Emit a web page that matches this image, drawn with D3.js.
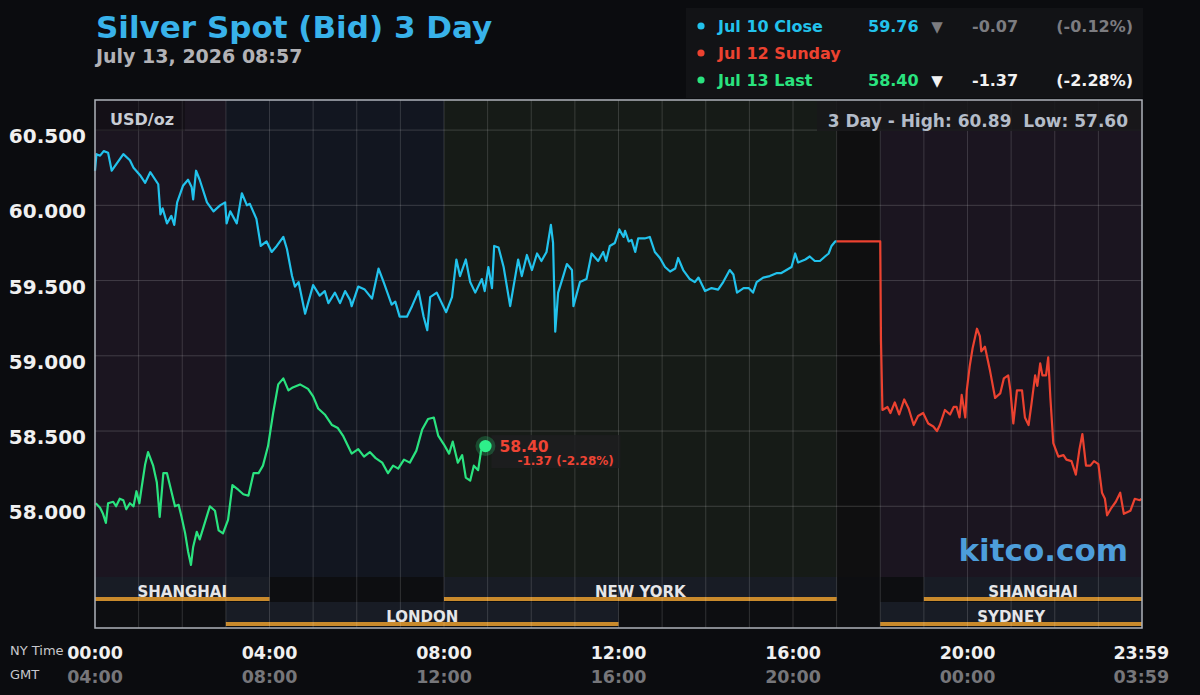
<!DOCTYPE html>
<html lang="en">
<head>
  <meta charset="utf-8" />
  <title>Silver Spot (Bid) 3 Day</title>
  <script src="https://cdn.jsdelivr.net/npm/d3@7"></script>
  <style>
    body { margin: 0; background: #0b0c0f; }
    text { font-family: "DejaVu Sans", sans-serif; }
  </style>
</head>
<body>
<div id="chart"></div>
<script>
// [minutes after NY midnight, price]
var jul10 = [[0,60.23],[2,60.34],[7,60.33],[12,60.36],[18,60.35],[23,60.23],[39,60.34],[48,60.30],[53,60.25],
  [62,60.20],[69,60.15],[76,60.22],[87,60.14],[90,59.94],[93,59.98],[99,59.88],[105,59.93],[109,59.87],[113,60.02],
  [121,60.13],[128,60.17],[133,60.12],[135,60.04],[139,60.23],[144,60.17],[154,60.02],[163,59.96],[172,60.00],
  [179,60.02],[181,59.88],[186,59.96],[195,59.88],[202,60.08],[209,60.00],[213,60.01],[222,59.91],[228,59.73],
  [236,59.76],[243,59.69],[250,59.73],[259,59.79],[264,59.71],[271,59.53],[275,59.46],[280,59.49],[289,59.28],
  [293,59.35],[300,59.47],[309,59.40],[316,59.43],[321,59.35],[330,59.42],[337,59.35],[344,59.43],[351,59.37],
  [353,59.33],[362,59.46],[371,59.44],[381,59.38],[390,59.58],[397,59.49],[408,59.34],[413,59.36],[419,59.26],
  [429,59.26],[436,59.33],[445,59.43],[452,59.26],[457,59.17],[461,59.39],[470,59.42],[483,59.29],[491,59.39],
  [497,59.64],[502,59.53],[510,59.64],[516,59.49],[523,59.42],[532,59.51],[536,59.43],[541,59.59],[546,59.45],
  [549,59.73],[555,59.72],[562,59.59],[571,59.33],[582,59.64],[587,59.53],[594,59.67],[601,59.57],[608,59.68],
  [614,59.63],[621,59.69],[627,59.87],[630,59.75],[633,59.16],[637,59.42],[644,59.53],[649,59.61],[656,59.57],
  [658,59.33],[667,59.49],[676,59.51],[683,59.68],[692,59.63],[699,59.69],[703,59.63],[708,59.73],[715,59.75],
  [721,59.84],[727,59.79],[729,59.83],[734,59.76],[738,59.77],[743,59.69],[747,59.78],[756,59.78],[763,59.79],
  [770,59.69],[777,59.65],[784,59.59],[791,59.56],[798,59.58],[802,59.65],[809,59.57],[818,59.51],[825,59.49],
  [830,59.52],[839,59.43],[848,59.45],[857,59.44],[864,59.49],[873,59.57],[878,59.54],[883,59.42],[892,59.45],
  [899,59.45],[905,59.42],[910,59.49],[919,59.52],[928,59.53],[938,59.55],[944,59.55],[951,59.57],[958,59.59],
  [963,59.68],[967,59.62],[977,59.64],[983,59.66],[990,59.63],[997,59.63],[1004,59.66],[1009,59.68],[1013,59.73],
  [1018,59.76],[1020,59.76]];

var jul12 = [[1020,59.76],[1080,59.76],[1081,59.10],[1083,58.64],[1090,58.66],[1094,58.62],[1100,58.69],
  [1106,58.61],[1113,58.71],[1119,58.65],[1126,58.54],[1132,58.60],[1139,58.62],[1146,58.55],[1153,58.53],
  [1158,58.50],[1162,58.54],[1169,58.64],[1176,58.61],[1181,58.66],[1185,58.66],[1189,58.59],[1192,58.74],
  [1197,58.59],[1199,58.77],[1203,58.93],[1207,59.05],[1213,59.18],[1217,59.13],[1219,59.03],[1224,59.06],
  [1231,58.90],[1238,58.72],[1245,58.75],[1250,58.85],[1256,58.87],[1259,58.77],[1263,58.55],[1268,58.77],
  [1275,58.77],[1279,58.59],[1284,58.54],[1288,58.68],[1293,58.87],[1296,58.80],[1300,58.95],[1303,58.87],
  [1308,58.87],[1311,58.99],[1314,58.72],[1318,58.42],[1325,58.33],[1332,58.34],[1336,58.31],[1343,58.30],
  [1349,58.21],[1354,58.38],[1358,58.48],[1363,58.27],[1369,58.27],[1374,58.30],[1380,58.28],[1385,58.09],
  [1389,58.05],[1392,57.94],[1398,57.99],[1404,58.03],[1410,58.09],[1415,57.95],[1424,57.97],[1430,58.05],
  [1437,58.04],[1439,58.05]];

var jul13 = [[1,58.02],[7,57.99],[11,57.95],[15,57.89],[18,58.02],[25,58.03],[29,58.00],[34,58.05],[39,58.04],
  [43,57.98],[48,58.02],[53,58.00],[57,58.10],[61,58.02],[64,58.12],[69,58.28],[73,58.36],[80,58.27],[85,58.16],
  [89,57.93],[94,58.22],[99,58.22],[105,58.10],[110,58.00],[115,58.01],[119,57.93],[124,57.82],[128,57.70],
  [132,57.61],[135,57.73],[140,57.83],[144,57.78],[151,57.89],[158,58.00],[165,57.97],[170,57.84],[176,57.82],
  [183,57.91],[189,58.14],[197,58.11],[204,58.08],[211,58.07],[218,58.22],[225,58.22],[231,58.27],[238,58.40],
  [245,58.62],[252,58.81],[259,58.85],[266,58.77],[272,58.79],[282,58.81],[293,58.78],[300,58.73],[307,58.65],
  [316,58.61],[326,58.54],[334,58.52],[341,58.47],[348,58.40],[353,58.35],[362,58.38],[370,58.33],[378,58.36],
  [386,58.32],[395,58.29],[403,58.22],[410,58.27],[417,58.25],[425,58.31],[433,58.29],[442,58.37],[450,58.51],
  [458,58.58],[466,58.59],[472,58.47],[480,58.41],[487,58.35],[492,58.43],[499,58.29],[505,58.34],[510,58.19],
  [516,58.17],[521,58.27],[527,58.24],[531,58.37],[537,58.40]];

var priceTicks = [58.0, 58.5, 59.0, 59.5, 60.0, 60.5];
var timeTicks = [0, 240, 480, 720, 960, 1200, 1439];
var nyLabels = ["00:00", "04:00", "08:00", "12:00", "16:00", "20:00", "23:59"];
var gmtLabels = ["04:00", "08:00", "12:00", "16:00", "20:00", "00:00", "03:59"];

// background shading by market hours
var bands = [[0, 180, "asia"], [180, 480, "london"], [480, 1020, "ny"], [1020, 1080, "closed"], [1080, 1440, "asia"]];
var sessionNames = ["SHANGHAI", "LONDON", "NEW YORK", "SHANGHAI", "SYDNEY"];
var sessionStart = [0, 180, 480, 1140, 1080];
var sessionEnd = [240, 720, 1020, 1440, 1440];
var sessionRow = [0, 1, 0, 0, 1];

var legendNames = ["Jul 10 Close", "Jul 12 Sunday", "Jul 13 Last"];
var legendValues = ["59.76", "", "58.40"];
var legendChanges = ["-0.07", "", "-1.37"];
var legendPercents = ["(-0.12%)", "", "(-2.28%)"];

var bandColor = { asia: "#1b1520", london: "#121620", ny: "#161b17", closed: "#0f0f10" };
var lineColors = ["#22c2ec", "#ec4230", "#2ae37f"];

var W = 1200, H = 695;
var plotLeft = 95, plotRight = 1142, plotTop = 100, plotBottom = 577, frameBottom = 628;

var svg = d3.select("#chart").append("svg")
  .attr("width", W).attr("height", H)
  .style("display", "block")
  .style("background", "#0b0c0f");

var x = d3.scaleLinear().domain([0, 1440]).range([plotLeft, plotRight]);
var y = d3.scaleLinear().domain([57.53, 60.70]).range([plotBottom, plotTop]);

// title
svg.append("text").attr("x", 96).attr("y", 38)
  .attr("font-size", 31).attr("font-weight", "bold").attr("fill", "#38b2ea")
  .text("Silver Spot (Bid) 3 Day");
svg.append("text").attr("x", 96).attr("y", 63)
  .attr("font-size", 19).attr("font-weight", "bold").attr("fill", "#b2b2b6")
  .text("July 13, 2026 08:57");

// legend box
svg.append("rect").attr("x", 686).attr("y", 8).attr("width", 457).attr("height", 90).attr("fill", "#121316");
var lg = svg.selectAll(".legend").data(legendNames).enter().append("g")
  .attr("transform", function(d, i) { return "translate(0," + (32 + i * 27) + ")"; });
lg.append("circle").attr("cx", 701).attr("cy", -6).attr("r", 3.6)
  .attr("fill", function(d, i) { return lineColors[i]; });
lg.append("text").attr("x", 718).attr("font-size", 16).attr("font-weight", "bold")
  .attr("fill", function(d, i) { return lineColors[i]; })
  .text(function(d) { return d; });
lg.append("text").attr("x", 868).attr("font-size", 16).attr("font-weight", "bold")
  .attr("fill", function(d, i) { return lineColors[i]; })
  .text(function(d, i) { return legendValues[i]; });
lg.append("text").attr("x", 937).attr("text-anchor", "middle").attr("font-size", 15).attr("font-weight", "bold")
  .attr("fill", function(d, i) { return i === 0 ? "#7c7c80" : "#f2f2f2"; })
  .text(function(d, i) { return legendValues[i] ? "\u25BC" : ""; });
lg.append("text").attr("x", 972).attr("font-size", 16).attr("font-weight", "bold")
  .attr("fill", function(d, i) { return i === 0 ? "#7c7c80" : "#f2f2f2"; })
  .text(function(d, i) { return legendChanges[i]; });
lg.append("text").attr("x", 1133).attr("text-anchor", "end").attr("font-size", 16).attr("font-weight", "bold")
  .attr("fill", function(d, i) { return i === 0 ? "#7c7c80" : "#f2f2f2"; })
  .text(function(d, i) { return legendPercents[i]; });

// plot shading
svg.selectAll(".band").data(bands).enter().append("rect")
  .attr("x", function(d) { return x(d[0]); })
  .attr("width", function(d) { return x(d[1]) - x(d[0]); })
  .attr("y", plotTop).attr("height", plotBottom - plotTop)
  .attr("fill", function(d) { return bandColor[d[2]]; });

// session rows
var rowTop = [577, 602];
svg.append("rect").attr("x", plotLeft).attr("y", plotBottom).attr("width", plotRight - plotLeft)
  .attr("height", frameBottom - plotBottom).attr("fill", "#0d0e11");
var ss = svg.selectAll(".session").data(sessionNames).enter().append("g");
ss.append("rect")
  .attr("x", function(d, i) { return x(sessionStart[i]); })
  .attr("width", function(d, i) { return x(sessionEnd[i]) - x(sessionStart[i]); })
  .attr("y", function(d, i) { return rowTop[sessionRow[i]]; })
  .attr("height", 24).attr("fill", "#181c25");
ss.append("rect")
  .attr("x", function(d, i) { return x(sessionStart[i]); })
  .attr("width", function(d, i) { return x(sessionEnd[i]) - x(sessionStart[i]); })
  .attr("y", function(d, i) { return rowTop[sessionRow[i]] + 20; })
  .attr("height", 4).attr("fill", "#c98a2c");
ss.append("text")
  .attr("x", function(d, i) { return (x(sessionStart[i]) + x(sessionEnd[i])) / 2; })
  .attr("y", function(d, i) { return rowTop[sessionRow[i]] + 20; })
  .attr("text-anchor", "middle").attr("font-size", 15).attr("font-weight", "bold").attr("fill", "#e6e6e8")
  .text(function(d) { return d; });

// grid
svg.selectAll(".vgrid").data(d3.range(60, 1440, 60)).enter().append("line")
  .attr("x1", function(d) { return x(d); }).attr("x2", function(d) { return x(d); })
  .attr("y1", plotTop).attr("y2", frameBottom)
  .attr("stroke", "rgba(255,255,255,0.15)").attr("stroke-width", 1);
svg.selectAll(".hgrid").data(priceTicks).enter().append("line")
  .attr("x1", plotLeft).attr("x2", plotRight)
  .attr("y1", function(d) { return y(d); }).attr("y2", function(d) { return y(d); })
  .attr("stroke", "rgba(255,255,255,0.17)").attr("stroke-width", 1);

// corner labels
svg.append("rect").attr("x", plotLeft).attr("y", plotTop).attr("width", 90).attr("height", 31).attr("fill", "rgba(8,8,10,0.35)");
svg.append("text").attr("x", 110).attr("y", 125).attr("font-size", 16).attr("font-weight", "bold")
  .attr("fill", "#c8ccd4").text("USD/oz");
svg.append("rect").attr("x", 817).attr("y", plotTop).attr("width", plotRight - 817).attr("height", 31)
  .attr("fill", "rgba(24,24,26,0.85)");
svg.append("text").attr("x", 1128).attr("y", 127).attr("text-anchor", "end")
  .attr("font-size", 17).attr("font-weight", "bold").attr("fill", "#b4bcc8")
  .style("white-space", "pre")
  .text("3 Day - High: 60.89  Low: 57.60");

// watermark
svg.append("text").attr("x", 1128).attr("y", 561).attr("text-anchor", "end")
  .attr("font-size", 31).attr("font-weight", "bold").attr("fill", "#4d9edb")
  .text("kitco.com");

// lines
var line = d3.line().x(function(d) { return x(d[0]); }).y(function(d) { return y(d[1]); });
[jul10, jul12, jul13].forEach(function(s, i) {
  svg.append("path").datum(s).attr("d", line)
    .attr("fill", "none").attr("stroke", lineColors[i])
    .attr("stroke-width", 2.2).attr("stroke-linejoin", "round");
});

// last price marker
var last = jul13[jul13.length - 1];
svg.append("rect").attr("x", x(last[0]) + 6).attr("y", y(last[1]) - 11)
  .attr("width", 129).attr("height", 33).attr("fill", "rgba(30,30,32,0.8)");
svg.append("circle").attr("cx", x(last[0])).attr("cy", y(last[1])).attr("r", 10)
  .attr("fill", "#2ef08a").attr("opacity", 0.22);
svg.append("circle").attr("cx", x(last[0])).attr("cy", y(last[1])).attr("r", 6.2)
  .attr("fill", "#2ef08a");
svg.append("text").attr("x", x(last[0]) + 14).attr("y", y(last[1]) + 6)
  .attr("font-size", 15.5).attr("font-weight", "bold").attr("fill", "#ee4434")
  .text(last[1].toFixed(2));
svg.append("text").attr("x", x(last[0]) + 32).attr("y", y(last[1]) + 19)
  .attr("font-size", 12).attr("font-weight", "bold").attr("fill", "#ee4434")
  .text("-1.37 (-2.28%)");

// frame
svg.append("rect").attr("x", plotLeft).attr("y", plotTop).attr("width", plotRight - plotLeft).attr("height", frameBottom - plotTop)
  .attr("fill", "none").attr("stroke", "#aeb2ba").attr("stroke-width", 1.5);

// y axis labels
svg.selectAll(".ylab").data(priceTicks).enter().append("text")
  .attr("x", 86).attr("y", function(d) { return y(d) + 13; })
  .attr("text-anchor", "end").attr("font-size", 20).attr("font-weight", "bold").attr("fill", "#f0f0f0")
  .text(function(d) { return d3.format(".3f")(d); });

// x axis labels
svg.selectAll(".xlab").data(timeTicks).enter().append("text")
  .attr("x", function(d) { return x(d); }).attr("y", 659)
  .attr("text-anchor", "middle").attr("font-size", 17.5).attr("font-weight", "bold").attr("fill", "#f0f0f0")
  .text(function(d, i) { return nyLabels[i]; });
svg.selectAll(".glab").data(timeTicks).enter().append("text")
  .attr("x", function(d) { return x(d); }).attr("y", 683)
  .attr("text-anchor", "middle").attr("font-size", 17.5).attr("font-weight", "bold").attr("fill", "#76767a")
  .text(function(d, i) { return gmtLabels[i]; });
svg.append("text").attr("x", 10).attr("y", 655).attr("font-size", 13).attr("fill", "#c8c8cc").text("NY Time");
svg.append("text").attr("x", 10).attr("y", 679).attr("font-size", 13).attr("fill", "#c8c8cc").text("GMT");
</script>
</body>
</html>
